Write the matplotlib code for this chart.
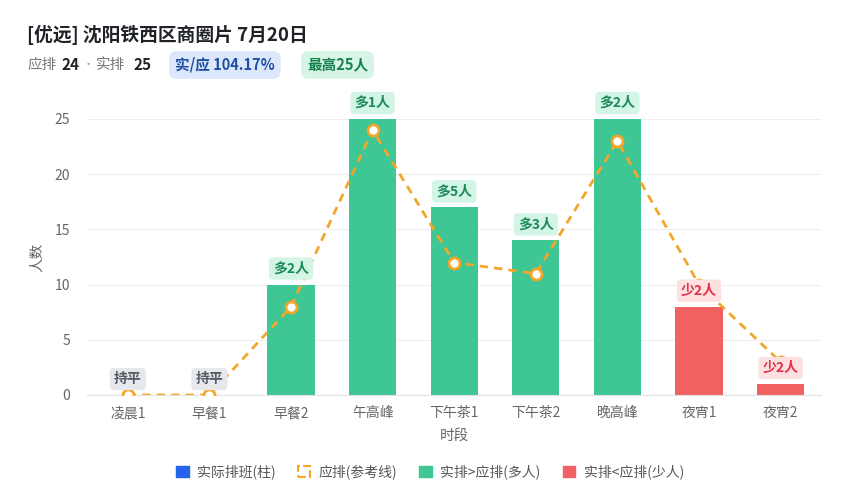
import matplotlib
matplotlib.use("Agg")
import matplotlib.pyplot as plt
from matplotlib.patches import Patch

plt.rcParams["font.family"] = ["Noto Sans CJK SC", "DejaVu Sans"]

# data
periods = ["凌晨1", "早餐1", "早餐2", "午高峰", "下午茶1", "下午茶2", "晚高峰", "夜宵1", "夜宵2"]
actual = [0, 0, 10, 25, 17, 14, 25, 8, 1]
expected = [0, 0, 8, 24, 12, 11, 23, 10, 3]
y_ticks = [0, 5, 10, 15, 20, 25]

GREEN = "#3ec695"
RED = "#f06262"
ORANGE = "#f2a62a"
BLUE = "#2563eb"


def diff_label(a, e):
    d = a - e
    if d > 0:
        return f"多{d}人", "#d3f5e5", "#1d8a5a"
    if d < 0:
        return f"少{-d}人", "#fde1e1", "#e0304a"
    return "持平", "#e6e8ec", "#555b66"


fig = plt.figure(figsize=(8.48, 5.0), dpi=100)
ax = fig.add_axes([0.1026, 0.21, 0.866, 0.552])

x = list(range(len(periods)))
colors = [GREEN if a > e else (RED if a < e else GREEN) for a, e in zip(actual, expected)]
ax.bar(x, actual, width=0.58, color=colors, zorder=2)
ax.plot(x, expected, linestyle=(0, (3, 2.2)), color=ORANGE, linewidth=2,
        marker="o", markersize=8, markerfacecolor="white", markeredgecolor=ORANGE,
        markeredgewidth=2, zorder=3)

for xi, a, e in zip(x, actual, expected):
    txt, bg, fg = diff_label(a, e)
    ax.annotate(txt, xy=(xi, a), xytext=(0, 16), textcoords="offset pixels",
                ha="center", va="center", fontsize=10, fontweight="bold", color=fg,
                bbox=dict(boxstyle="round,pad=0.3,rounding_size=0.3", fc=bg, ec="none"),
                zorder=4, annotation_clip=False)

ax.set_xlim(-0.5, len(periods) - 0.5)
ax.set_ylim(0, 25)
ax.set_yticks(y_ticks)
ax.set_xticks(x)
ax.set_xticklabels(periods)
ax.tick_params(axis="both", length=0, labelsize=10, colors="#666666")
ax.tick_params(axis="x", pad=8)
ax.tick_params(axis="y", pad=12)
ax.grid(axis="y", color="#eeeeee", linewidth=0.8, zorder=0)
for side in ["top", "right", "left"]:
    ax.spines[side].set_visible(False)
ax.spines["bottom"].set_color("#e3e3e3")
ax.set_xlabel("时段", fontsize=10.5, color="#666666", labelpad=6)
ax.set_ylabel("人数", fontsize=10.5, color="#666666", labelpad=8)

# header
fig.text(27 / 848, 1 - 35 / 500, "[优远] 沈阳铁西区商圈片 7月20日", fontsize=13.5,
         fontweight="bold", color="#1f2328", va="center")
sub_y = 1 - 65 / 500
fig.text(27 / 848, sub_y, "应排", fontsize=10.5, color="#777777", va="center")
fig.text(62 / 848, sub_y, "24", fontsize=11, fontweight="bold", color="#222222", va="center")
fig.text(88 / 848, sub_y, "·", fontsize=8, color="#999999", va="center", ha="center")
fig.text(96 / 848, sub_y, "实排", fontsize=10.5, color="#777777", va="center")
fig.text(133 / 848, sub_y, "25", fontsize=11, fontweight="bold", color="#222222", va="center")
fig.text(175 / 848, sub_y, "实/应 104.17%", fontsize=10.5, fontweight="bold", color="#1f4fa3",
         va="center", bbox=dict(boxstyle="round,pad=0.4,rounding_size=0.5",
                                fc="#dce7fb", ec="none"))
fig.text(307 / 848, sub_y, "最高25人", fontsize=10.5, fontweight="bold", color="#17804f",
         va="center", bbox=dict(boxstyle="round,pad=0.4,rounding_size=0.5",
                                fc="#d6f5e6", ec="none"))

handles = [
    Patch(facecolor=BLUE, edgecolor=BLUE, label="实际排班(柱)"),
    Patch(facecolor="none", edgecolor=ORANGE, linestyle="--", linewidth=1.5, label="应排(参考线)"),
    Patch(facecolor=GREEN, edgecolor=GREEN, label="实排>应排(多人)"),
    Patch(facecolor=RED, edgecolor=RED, label="实排<应排(少人)"),
]
leg = fig.legend(handles=handles, loc="center", bbox_to_anchor=(430 / 848, 1 - 472 / 500),
                 ncol=4, frameon=False, fontsize=10, handlelength=0.9, handleheight=0.9,
                 handletextpad=0.6, columnspacing=1.6)
for t in leg.get_texts():
    t.set_color("#555555")

fig.savefig("out.png", dpi=100)
